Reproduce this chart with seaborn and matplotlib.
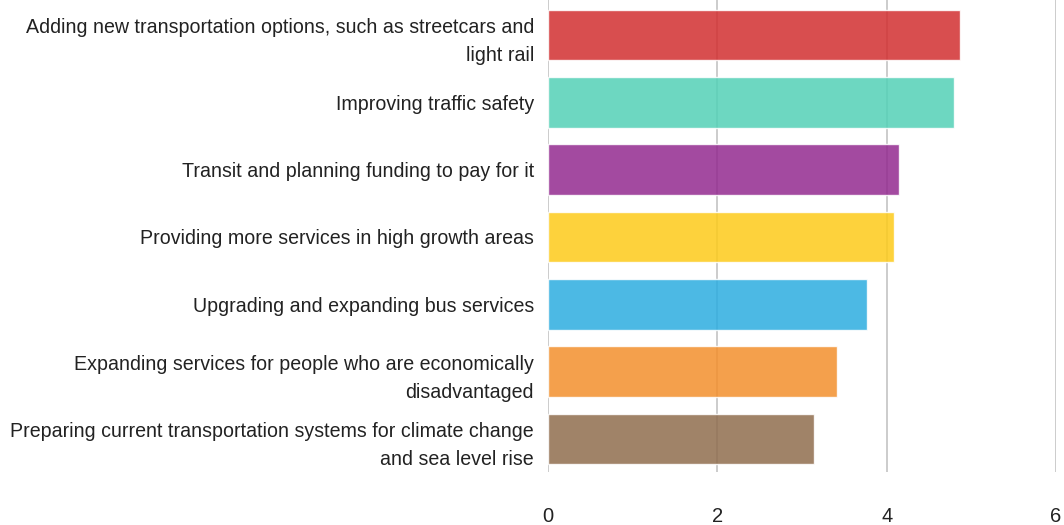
import matplotlib
matplotlib.use("Agg")
import matplotlib.pyplot as plt
import pandas as pd
import seaborn as sns

# priorities and their average scores
priorities = [
    "Adding new transportation options, such as streetcars and\nlight rail",
    "Improving traffic safety",
    "Transit and planning funding to pay for it",
    "Providing more services in high growth areas",
    "Upgrading and expanding bus services",
    "Expanding services for people who are economically\ndisadvantaged",
    "Preparing current transportation systems for climate change\nand sea level rise",
]
scores = [4.87, 4.79, 4.14, 4.09, 3.77, 3.41, 3.14]
bar_colors = ["#d22f30", "#53d1b7", "#932a8f", "#fdcb1a", "#2cade0", "#f38f2c", "#8f6d4e"]
x_ticks = [0, 2, 4, 6]

df = pd.DataFrame({"priority": priorities, "score": scores})

sns.set_theme(style="white")
plt.rcParams["font.family"] = ["Liberation Sans", "DejaVu Sans"]

fig, ax = plt.subplots(figsize=(10.64, 5.25), dpi=100)
fig.subplots_adjust(left=0.515, right=0.9925, top=1.0, bottom=0.101)

sns.barplot(data=df, x="score", y="priority", hue="priority", palette=bar_colors,
            legend=False, width=0.75, alpha=0.85, saturation=1, ax=ax)

# vertical grid lines, bars are semi-transparent so they show through
for t in x_ticks:
    ax.axvline(t, color="#c8c8c8", linewidth=1.3, zorder=0)

ax.set_xlim(0, 6)
ax.set_ylim(6.49, -0.52)
ax.set_xticks(x_ticks)
ax.set_xlabel("")
ax.set_ylabel("")
sns.despine(ax=ax, left=True, bottom=True)
ax.tick_params(axis="both", length=0)
ax.tick_params(axis="y", pad=10, labelsize=14.1, labelcolor="#222222")
ax.tick_params(axis="x", pad=25, labelsize=14.5, labelcolor="#222222")
for lbl in ax.get_yticklabels():
    lbl.set_linespacing(1.6)
    lbl.set_horizontalalignment("right")
    lbl.set_multialignment("right")

fig.savefig("out.png", dpi=100, facecolor="white")
